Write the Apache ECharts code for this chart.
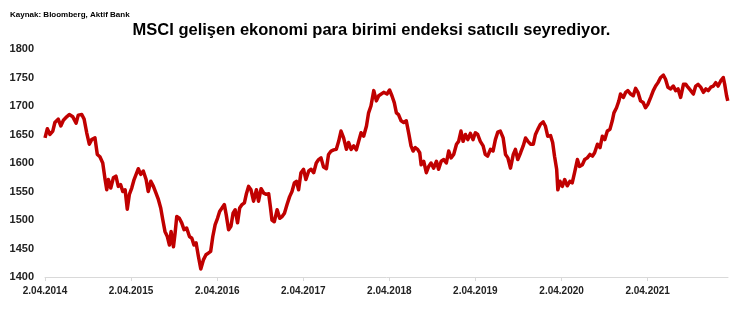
<!DOCTYPE html>
<html>
<head>
<meta charset="utf-8">
<script src="https://cdn.jsdelivr.net/npm/echarts@6/dist/echarts.min.js"></script>
<style>html,body{margin:0;padding:0;background:#fff}#c{width:743px;height:323px}</style>
</head>
<body>
<div id="c"></div>
<script>
const titleText = 'MSCI gelişen ekonomi para birimi endeksi satıcılı seyrediyor.';
const sourceText = 'Kaynak: Bloomberg, Aktif Bank';
const tickDates = ['2014-04-02','2015-04-02','2016-04-02','2017-04-02','2018-04-02','2019-04-02','2020-04-02','2021-04-02'];
const tickLabels = ['2.04.2014','2.04.2015','2.04.2016','2.04.2017','2.04.2018','2.04.2019','2.04.2020','2.04.2021'];
const yTicks = [1400,1450,1500,1550,1600,1650,1700,1750,1800];

const dates2014 = ['2014-04-02','2014-04-12','2014-04-23','2014-05-05','2014-05-14','2014-05-28','2014-06-08','2014-06-19','2014-07-03','2014-07-14','2014-07-29','2014-08-12','2014-08-21','2014-09-05','2014-09-15','2014-09-26','2014-10-07','2014-10-17','2014-10-31','2014-11-10','2014-11-21','2014-12-03','2014-12-13','2014-12-20','2014-12-27','2015-01-06','2015-01-17','2015-01-28','2015-02-07','2015-02-17','2015-02-26','2015-03-08','2015-03-17','2015-03-26'];
const values2014 = [1644,1660,1650,1656,1671,1677,1665,1675,1681,1685,1681,1670,1684,1685,1677,1653,1633,1641,1644,1615,1611,1600,1571,1553,1571,1556,1574,1577,1559,1562,1550,1553,1519,1545];

const dates2015 = ['2015-04-05','2015-04-15','2015-04-23','2015-05-03','2015-05-13','2015-05-24','2015-06-05','2015-06-14','2015-06-25','2015-07-06','2015-07-17','2015-07-27','2015-08-06','2015-08-15','2015-08-24','2015-09-03','2015-09-12','2015-09-19','2015-09-29','2015-10-06','2015-10-13','2015-10-24','2015-11-03','2015-11-13','2015-11-24','2015-12-06','2015-12-16','2015-12-25','2016-01-03','2016-01-13','2016-01-23','2016-02-03','2016-02-14','2016-02-24','2016-03-05','2016-03-14','2016-03-24'];
const values2015 = [1556,1571,1574,1590,1580,1586,1571,1550,1568,1559,1547,1536,1521,1500,1480,1471,1456,1480,1453,1477,1506,1503,1495,1483,1486,1471,1468,1456,1460,1436,1414,1430,1439,1442,1445,1471,1492];

const dates2016 = ['2016-04-03','2016-04-12','2016-04-22','2016-05-02','2016-05-10','2016-05-20','2016-05-30','2016-06-08','2016-06-17','2016-06-27','2016-07-06','2016-07-16','2016-07-26','2016-08-03','2016-08-13','2016-08-23','2016-09-03','2016-09-15','2016-09-24','2016-10-05','2016-10-16','2016-10-27','2016-11-06','2016-11-13','2016-11-20','2016-11-30','2016-12-12','2016-12-23','2017-01-02','2017-01-12','2017-01-23','2017-02-03','2017-02-13','2017-02-23','2017-03-04','2017-03-13','2017-03-23'];
const values2016 = [1503,1515,1521,1527,1509,1483,1489,1512,1518,1495,1521,1527,1530,1545,1559,1553,1533,1553,1533,1555,1547,1545,1546,1524,1500,1497,1518,1503,1506,1512,1527,1541,1550,1565,1568,1553,1583];

const dates2017 = ['2017-04-03','2017-04-13','2017-04-25','2017-05-05','2017-05-16','2017-05-27','2017-06-06','2017-06-16','2017-06-27','2017-07-09','2017-07-18','2017-07-29','2017-08-09','2017-08-20','2017-08-30','2017-09-09','2017-09-20','2017-10-02','2017-10-11','2017-10-22','2017-11-02','2017-11-13','2017-11-23','2017-12-03','2017-12-14','2017-12-26','2018-01-04','2018-01-14','2018-01-26','2018-02-06','2018-02-16','2018-02-23','2018-03-09','2018-03-23'];
const values2017 = [1589,1571,1586,1589,1583,1600,1606,1609,1593,1590,1615,1621,1623,1624,1638,1656,1644,1624,1636,1624,1630,1623,1638,1653,1647,1665,1688,1700,1727,1709,1718,1718,1724,1721];

const dates2018 = ['2018-04-03','2018-04-13','2018-04-23','2018-05-02','2018-05-11','2018-05-22','2018-06-02','2018-06-13','2018-06-23','2018-07-03','2018-07-12','2018-07-21','2018-07-31','2018-08-09','2018-08-15','2018-08-26','2018-09-06','2018-09-16','2018-09-26','2018-10-07','2018-10-19','2018-10-28','2018-11-08','2018-11-19','2018-11-30','2018-12-10','2018-12-20','2018-12-31','2019-01-12','2019-01-21','2019-01-31','2019-02-09','2019-02-19','2019-03-01','2019-03-12','2019-03-23'];
const values2018 = [1728,1718,1706,1688,1685,1674,1671,1674,1653,1630,1621,1627,1624,1618,1597,1603,1583,1594,1600,1591,1603,1589,1603,1606,1600,1621,1609,1615,1633,1638,1656,1638,1650,1641,1652,1641];

const dates2019 = ['2019-04-02','2019-04-12','2019-04-23','2019-05-05','2019-05-14','2019-05-24','2019-06-05','2019-06-16','2019-06-26','2019-07-06','2019-07-17','2019-07-29','2019-08-08','2019-08-18','2019-08-29','2019-09-10','2019-09-19','2019-09-29','2019-10-11','2019-10-22','2019-11-01','2019-11-11','2019-11-22','2019-12-04','2019-12-13','2019-12-23','2020-01-03','2020-01-15','2020-01-24','2020-02-03','2020-02-15','2020-02-24','2020-03-03','2020-03-12','2020-03-17','2020-03-26'];
const values2019 = [1653,1650,1638,1630,1615,1612,1624,1621,1641,1654,1656,1644,1615,1609,1591,1615,1624,1606,1618,1630,1644,1638,1633,1633,1650,1659,1668,1672,1665,1647,1648,1636,1612,1589,1553,1568];

const dates2020 = ['2020-04-05','2020-04-15','2020-04-26','2020-05-07','2020-05-17','2020-05-27','2020-06-08','2020-06-17','2020-06-29','2020-07-09','2020-07-20','2020-07-31','2020-08-11','2020-08-20','2020-09-01','2020-09-12','2020-09-22','2020-10-02','2020-10-13','2020-10-24','2020-11-03','2020-11-10','2020-11-21','2020-12-01','2020-12-08','2020-12-20','2020-12-30','2021-01-08','2021-01-20','2021-01-31','2021-02-10','2021-02-20','2021-03-03','2021-03-14','2021-03-24'];
const values2020 = [1559,1571,1560,1568,1565,1583,1606,1594,1597,1606,1609,1615,1612,1618,1633,1627,1647,1641,1656,1659,1674,1688,1697,1709,1721,1715,1724,1727,1721,1718,1731,1724,1709,1706,1697];

const dates2021 = ['2021-04-03','2021-04-15','2021-04-26','2021-05-06','2021-05-16','2021-05-27','2021-06-08','2021-06-17','2021-06-27','2021-07-09','2021-07-20','2021-07-30','2021-08-09','2021-08-20','2021-09-01','2021-09-11','2021-09-20','2021-10-02','2021-10-13','2021-10-23','2021-11-02','2021-11-13','2021-11-25','2021-12-05','2021-12-15','2021-12-26','2022-01-06','2022-01-16','2022-01-26','2022-02-06','2022-02-17','2022-02-23','2022-03-03','2022-03-08'];
const values2021 = [1703,1715,1727,1735,1741,1750,1754,1747,1733,1730,1735,1727,1730,1715,1738,1738,1733,1727,1721,1735,1738,1733,1724,1730,1727,1733,1735,1741,1735,1744,1750,1738,1718,1709];

const dates = [].concat(dates2014, dates2015, dates2016, dates2017, dates2018, dates2019, dates2020, dates2021);
const values = [].concat(values2014, values2015, values2016, values2017, values2018, values2019, values2020, values2021);

function toTime(s){ const p = s.split('-').map(Number); return Date.UTC(p[0], p[1]-1, p[2]); }
const seriesData = dates.map((d, i) => [toTime(d), values[i]]);
const tickTimes = tickDates.map(toTime);
const labelByTime = {};
tickTimes.forEach((t, i) => { labelByTime[t] = tickLabels[i]; });

const chart = echarts.init(document.getElementById('c'), null, {renderer: 'canvas'});
chart.setOption({
  animation: false,
  backgroundColor: '#ffffff',
  title: [
    {text: titleText, left: 'center', top: 17,
     textStyle: {fontFamily: 'Liberation Sans', fontWeight: 'bold', fontSize: 16.5, color: '#000'}},
    {text: sourceText, left: 5, top: 6,
     textStyle: {fontFamily: 'Liberation Sans', fontWeight: 'bold', fontSize: 8, color: '#000'}}
  ],
  grid: {left: 45, right: 15, top: 49, bottom: 46, containLabel: false},
  xAxis: {
    type: 'value',
    min: toTime('2014-04-02'),
    max: toTime('2022-03-09'),
    splitLine: {show: false},
    axisLine: {show: true, lineStyle: {color: '#d9d9d9', width: 1}},
    axisTick: {show: true, length: 4, lineStyle: {color: '#d9d9d9'}, customValues: tickTimes},
    axisLabel: {
      customValues: tickTimes,
      formatter: v => labelByTime[v] || '',
      fontFamily: 'Liberation Sans', fontWeight: 'bold', fontSize: 10, color: '#222', margin: 9
    }
  },
  yAxis: {
    type: 'value',
    min: yTicks[0], max: yTicks[yTicks.length-1], interval: 50,
    splitLine: {show: false},
    axisLine: {show: false},
    axisTick: {show: false},
    axisLabel: {formatter: v => String(v), fontFamily: 'Liberation Sans', fontWeight: 'bold', fontSize: 11, color: '#222', margin: 11}
  },
  series: [{
    type: 'line',
    data: seriesData,
    showSymbol: false,
    symbol: 'none',
    lineStyle: {color: '#c00000', width: 3.5, join: 'round'},
    itemStyle: {color: '#c00000'}
  }]
});
</script>
</body>
</html>
